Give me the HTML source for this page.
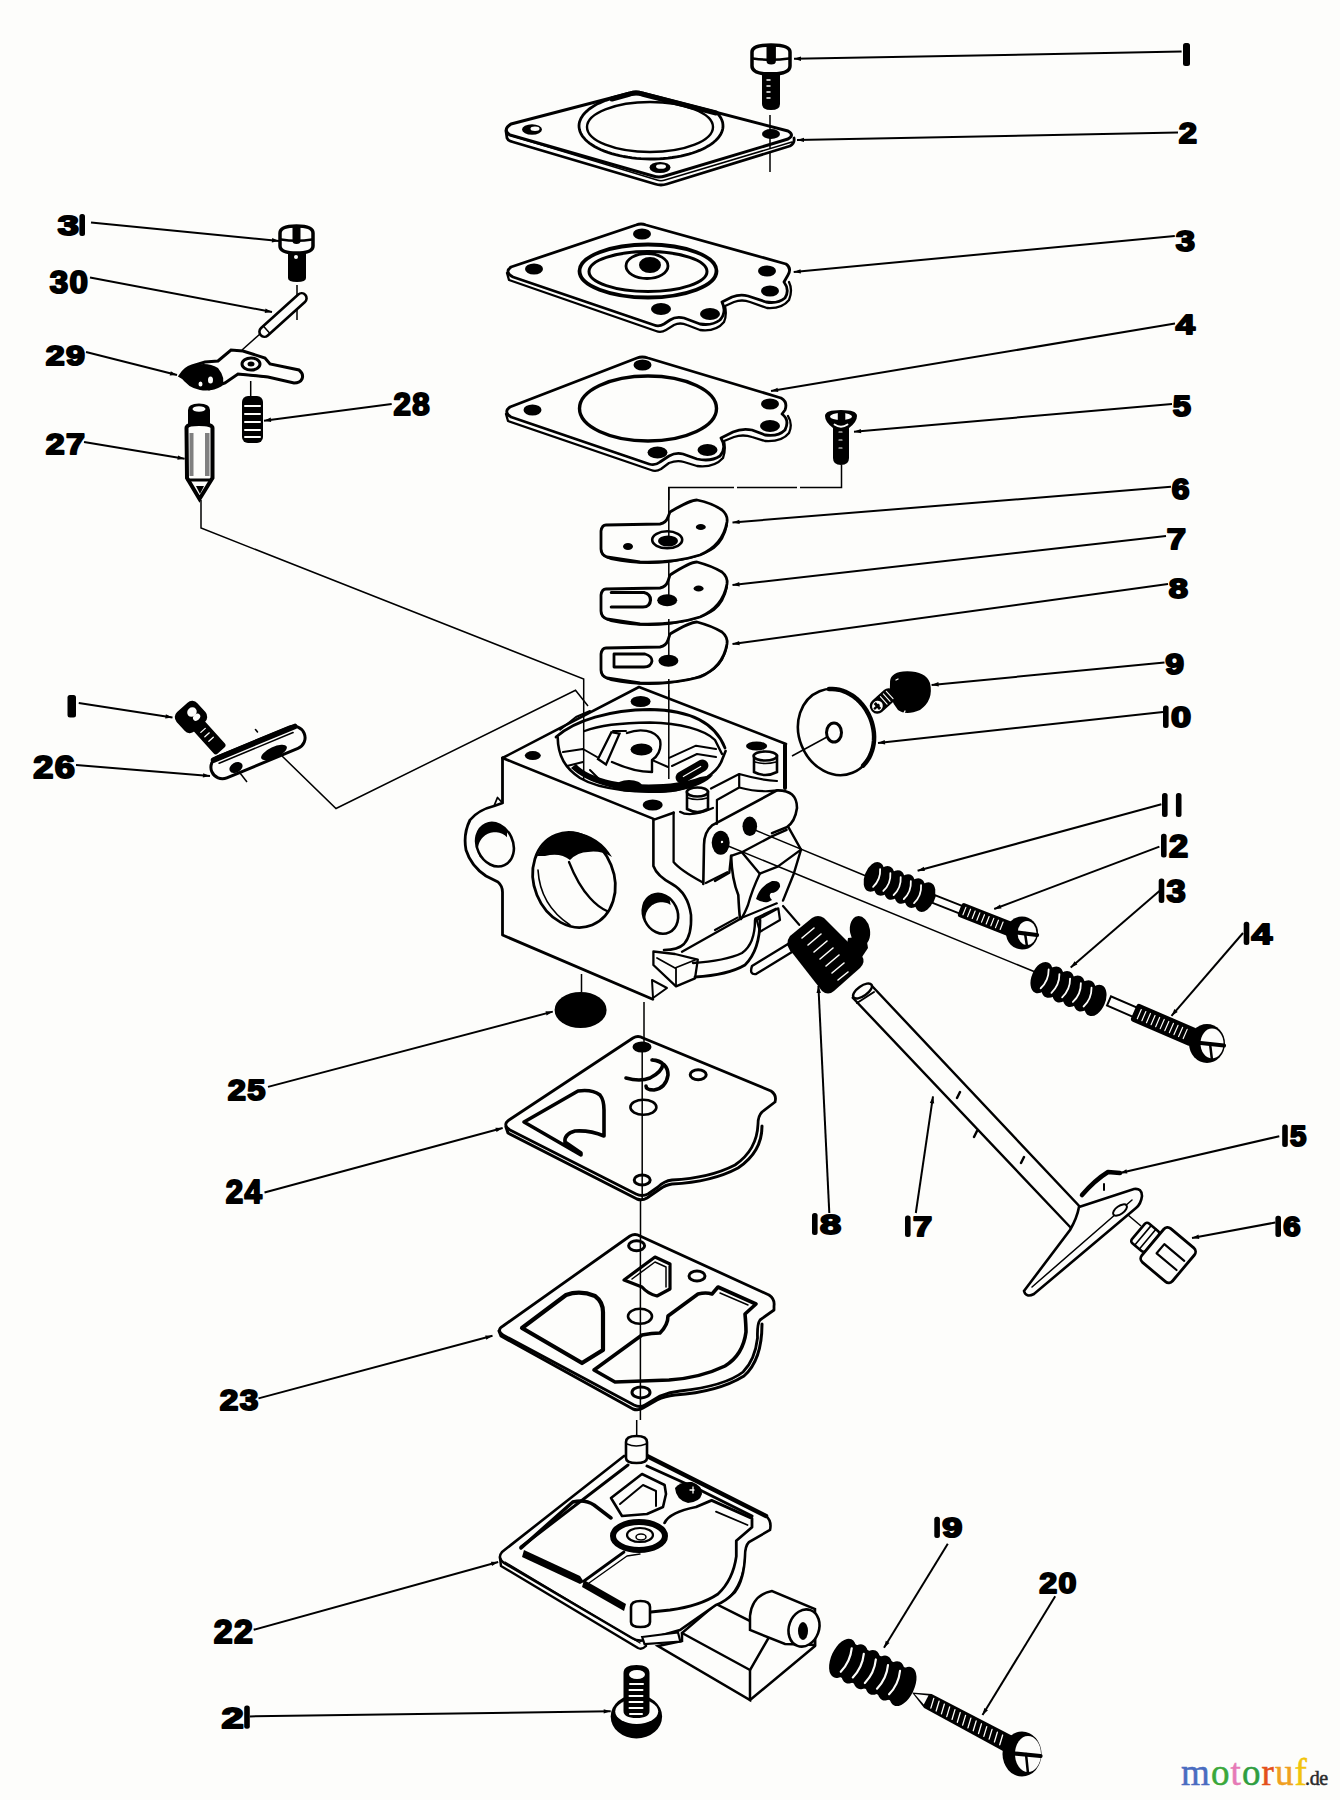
<!DOCTYPE html>
<html><head><meta charset="utf-8"><title>Carburetor parts diagram</title>
<style>
html,body{margin:0;padding:0;background:#fdfdfb;}
body{width:1340px;height:1800px;overflow:hidden;position:relative;}
svg{position:absolute;left:0;top:0;display:block;}
.o{fill:none;stroke:#000;stroke-linejoin:round;stroke-linecap:round;}
.t{fill:none;stroke:#000;stroke-width:1.5;}
.w{fill:none;stroke:#fdfdfb;stroke-linecap:round;}
.ld line{stroke:#000;stroke-width:2;}
.lb text{font-family:"Liberation Sans",sans-serif;font-weight:bold;fill:#000;stroke:#000;stroke-width:2;stroke-linejoin:round;}
.logo{position:absolute;left:1181px;top:1753px;font-family:"Liberation Serif",serif;font-size:37px;line-height:40px;white-space:nowrap;letter-spacing:1.1px;-webkit-text-stroke:0.5px currentColor;}
.logo span.de{font-size:20px;color:#2b2b2b;letter-spacing:0;margin-left:-3px;letter-spacing:-0.3px;}
</style></head><body>
<svg width="1340" height="1800" viewBox="0 0 1340 1800">
<!-- screw 1 top -->
<g>
<path class="o" d="M752,52 Q752,45 771,45 Q790,45 790,52 L790,66 Q790,74 771,74 Q752,74 752,66 Z" stroke-width="3.5"/>
<path class="o" d="M753,58.5 Q771,61 789,58.5" stroke-width="2.6"/>
<path d="M766.5,45 L775.9,45 L775.9,61 Q775.9,64.5 771.2,64.5 Q766.5,64.5 766.5,61 Z"/>
<path d="M762,72 L780,72 L780,104 Q780,110 771,110 Q762,110 762,104 Z"/>
<path class="w" d="M767,80 h3 M767,86 h3 M767,92 h3 M767,98 h3" stroke-width="1.5"/>
</g>
<path class="t" d="M770,115 V148 M770,152 V172" />
<!-- cover 2 -->
<g>
<path class="o" d="M511,124 L630,93 Q636,91 642,93 L788,131 Q795,135 788,139 L665,176 Q659,178 653,176 L510,135 Q502,130 511,124 Z" stroke-width="3"/>
<path class="o" d="M506,131 L507,138 Q508,141 513,142 L655,184 Q661,186 667,184 L790,146 Q795,143 794,138" stroke-width="2.8"/>
<path class="o" d="M509,135 L657,180 Q661,181.5 665,180 L792,142" stroke-width="1.5"/>
<path class="o" d="M642.9,93.2 L638.4,93.5 L634.0,93.9 L629.6,94.5 L625.3,95.2 L621.2,96.0 L617.1,96.9 L613.2,97.9 L609.4,99.1 L605.8,100.3 L602.4,101.7 L599.2,103.1 L596.1,104.6 L593.3,106.3 L590.7,108.0 L588.4,109.7 L586.3,111.6 L584.4,113.5 L582.8,115.4 L581.5,117.4 L580.5,119.4 L579.7,121.4 L579.2,123.5 L579.0,125.6 L579.1,127.6 L579.5,129.7 L580.1,131.8 L581.0,133.8 L582.2,135.8 L583.7,137.7 L585.4,139.7 L587.4,141.5 L589.7,143.3 L592.2,145.0 L594.9,146.7 L597.9,148.3 L601.0,149.7 L604.4,151.1 L607.9,152.4 L611.6,153.6 L615.5,154.7 L619.5,155.7 L623.6,156.5 L627.8,157.2 L632.1,157.8 L636.5,158.3 L641.0,158.7 L645.5,158.9 L650.0,159.0 L654.5,159.0 L659.0,158.8 L663.5,158.5 L667.9,158.1 L672.3,157.5 L676.6,156.8 L680.7,156.1 L684.8,155.1 L688.7,154.1 L692.5,153.0 L696.1,151.7 L699.5,150.4 L702.8,148.9 L705.8,147.4 L708.6,145.8 L711.2,144.1 L713.6,142.3 L715.7,140.5 L717.6,138.6 L719.1,136.6 L720.5,134.7 L721.5,132.7 L722.3,130.6 L722.8,128.5 L723.0,126.5 L722.9,124.4 L722.6,122.3 L721.9,120.3 L721.0,118.3 L719.8,116.3 L718.3,114.3 L716.6,112.4" stroke-width="2.8"/>
<ellipse class="o" cx="650" cy="127" rx="63" ry="25" stroke-width="2.4"/>
<path class="o" d="M612,99 L630,94 Q636,92 642,94 L716,113" stroke-width="5"/>
<ellipse cx="532" cy="129.5" rx="10" ry="5.2"/><ellipse cx="535" cy="128.8" rx="4.5" ry="2.2" fill="#fdfdfb"/>
<ellipse cx="660" cy="167.5" rx="10.5" ry="5.5"/><ellipse cx="661" cy="166.5" rx="5" ry="2.3" fill="#fdfdfb"/>
<ellipse cx="771" cy="134" rx="9" ry="5"/>
</g>
<!-- gasket 3 -->
<g>
<path class="o" d="M511,267 L636,225 Q641,223 646,225 L786,264 Q792,268 788,275 L784,282 Q790,290 785,298 Q778,304 766,302 L748,296 Q740,294 732,297 L722,302 Q727,312 720,320 Q712,326 700,324 L684,318 Q676,316 670,320 L664,324 Q659,327 654,325 L513,277 Q504,272 511,267 Z" stroke-width="2.8"/>
<path class="o" d="M507,273 L509,280 L656,331 Q661,333 666,330 L674,325 Q680,322 687,325 L700,330 Q716,332 724,322 Q727,315 725,306 L734,302 Q742,299 750,302 L767,308 Q782,309 789,300 Q793,290 789,282" stroke-width="2.3"/>
<ellipse class="o" cx="648" cy="271" rx="68.5" ry="26.5" stroke-width="3.8"/>
<ellipse class="o" cx="648" cy="271.5" rx="59" ry="20" stroke-width="3"/>
<ellipse class="o" cx="647" cy="266" rx="21" ry="12.5" stroke-width="2.8"/>
<ellipse cx="650" cy="265" rx="11" ry="8"/>
<ellipse cx="534" cy="269" rx="9" ry="5.5"/>
<ellipse cx="642" cy="234" rx="9" ry="5.5"/>
<ellipse cx="767" cy="271" rx="9" ry="5.5"/>
<ellipse cx="770" cy="291" rx="9" ry="5.5"/>
<ellipse cx="661" cy="309" rx="10" ry="6"/>
<ellipse cx="710" cy="314" rx="10" ry="6"/>
</g>
<!-- gasket 4 -->
<g>
<path class="o" d="M510,407 L637,358 Q642,356 648,358 L781,398 Q788,402 785,410 L782,414 Q790,420 785,430 Q778,437 765,435 L752,430 Q742,428 733,432 L721,438 Q727,448 720,456 Q711,462 697,459 L683,454 Q676,452 669,456 L660,462 Q655,466 649,464 L511,417 Q503,412 510,407 Z" stroke-width="2.8"/>
<path class="o" d="M506,414 L508,421 L651,470 Q656,472 661,469 L669,463 Q677,460 684,462 L697,466 Q714,468 723,458 Q726,450 724,441 L734,437 Q743,434 752,437 L765,441 Q782,442 789,433 Q793,424 788,416" stroke-width="2.3"/>
<ellipse class="o" cx="648" cy="408.5" rx="68.5" ry="32.5" stroke-width="3.4"/>
<ellipse cx="532.5" cy="410" rx="9" ry="5.5"/>
<ellipse cx="642.5" cy="365" rx="9" ry="5.5"/>
<ellipse cx="770" cy="404" rx="9" ry="5.5"/>
<ellipse cx="770" cy="426" rx="10" ry="6"/>
<ellipse cx="657.5" cy="452.5" rx="10" ry="6"/>
<ellipse cx="707.5" cy="450" rx="10" ry="6"/>
</g>
<!-- screw 5 -->
<g>
<path d="M825,416 Q825,410 841,410 Q857,410 857,416 Q857,422 849,428 L849,458 Q849,465 841,465 Q833,465 833,458 L833,428 Q825,422 825,416 Z"/>
<ellipse cx="841" cy="416.5" rx="11" ry="3.6" fill="#fdfdfb"/><rect x="837.8" y="411" width="7.5" height="16" rx="3"/><path class="w" d="M834.5,424.5 Q841,429 847.5,424.5" stroke-width="1.8"/>
<path class="w" d="M839,432 h3 M839,440 h3 M839,448 h3" stroke-width="1.2"/>
</g>
<path class="t" d="M841.5,465 V487.5 H800 M797,487.5 H737 M734,487.5 H668.8 V500" stroke-width="1.6"/>
<!-- plate 6 -->
<g>
<path class="o" d="M606,525 L660,524 Q666,523 668,517 L670,512 Q690,500 697,500 Q712,503 722,510 Q728,515 727,522 Q723,545 700,555 Q675,563 640,562 L607,557 Q601,555 601,549 L601,531 Q602,525 606,525 Z" stroke-width="2.8" fill="#fdfdfb"/>
<path class="o" d="M601,549 Q602,557 611,559 Q640,565 668,562 Q700,558 714,548 Q724,540 727,525" stroke-width="2"/>
<ellipse class="o" cx="667.2" cy="539.8" rx="15" ry="8.5" stroke-width="2.6"/>
<ellipse cx="668" cy="541" rx="10" ry="5.5"/>
<ellipse cx="628" cy="546.5" rx="5" ry="3.5"/>
<ellipse cx="700.8" cy="527" rx="5" ry="3"/>
</g>
<!-- plate 7 -->
<g>
<path class="o" d="M606,589 L660,588 Q666,587 668,581 L670,575 Q690,562 697,562 Q712,566 722,572 Q728,577 727,584 Q723,607 700,617 Q675,625 640,624 L607,619 Q601,617 601,611 L601,595 Q602,589 606,589 Z" stroke-width="2.8" fill="#fdfdfb"/>
<path class="o" d="M601,611 Q602,619 611,621 Q640,627 668,624 Q700,620 714,610 Q724,602 727,587" stroke-width="2"/>
<path class="o" d="M611.3,592.5 L644,592.5 Q650.5,594 650.5,600 Q650,607 643,607 L611.3,607" stroke-width="3.2"/>
<ellipse cx="667.2" cy="600.3" rx="10" ry="6"/>
<ellipse cx="698.6" cy="588.5" rx="5" ry="3"/>
</g>
<!-- plate 8 -->
<g>
<path class="o" d="M606,648 L660,647 Q666,646 668,640 L670,634 Q690,622 697,622 Q712,626 722,632 Q728,637 727,644 Q723,667 700,677 Q675,684 640,683 L607,678 Q601,676 601,670 L601,654 Q602,648 606,648 Z" stroke-width="2.8" fill="#fdfdfb"/>
<path class="o" d="M601,670 Q602,678 611,680 Q640,686 668,683 Q700,679 714,669 Q724,661 727,646" stroke-width="2"/>
<path class="o" d="M614,654 L645,654 Q652,656 652,661 Q651,667 644,667 L614,667 Z" stroke-width="2.8"/>
<ellipse cx="668.4" cy="660.7" rx="10" ry="6"/>
</g>

<path class="t" d="M668.8,487.5 V541 M668.8,563 V600 M668.8,619 V661 M668.8,679 V700" stroke-width="1.6"/>
<!-- screw 9 -->
<g>
<path d="M890,684 Q889,673 903,671.5 Q925,670 930,683 Q934,700 920,710 Q906,716 898,710 Q888,698 890,684 Z"/>
<g transform="translate(883,701) rotate(-42)">
<rect x="-15" y="-7.5" width="30" height="15" rx="7"/>
<ellipse cx="-7.5" cy="0" rx="5.5" ry="5.2" fill="#fdfdfb"/>
<path d="M-9,-4 h3 v8 h-3 Z M-12,-1.2 h7 v2.4 h-7 Z"/>
<path class="w" d="M1,-5 v10 M5,-5 v10 M9,-5 v10" stroke-width="1.1"/>
</g>
<path class="w" d="M896,680 l2,-1 M904,713 l1,-2" stroke-width="1.3"/>
</g>
<!-- diaphragm 10 -->
<g>
<ellipse class="o" cx="836" cy="732" rx="37" ry="44" transform="rotate(-22 836 732)" stroke-width="2.6"/>
<path class="o" d="M829.0,689.0 L832.2,688.9 L835.6,689.2 L838.9,689.7 L842.2,690.6 L845.4,691.8 L848.6,693.4 L851.7,695.2 L854.6,697.2 L857.5,699.6 L860.1,702.2 L862.6,705.0 L864.9,708.1 L866.9,711.3 L868.7,714.6 L870.3,718.1 L871.6,721.7 L872.6,725.4 L873.4,729.2 L873.9,732.9 L874.1,736.7 L874.0,740.4 L873.6,744.0 L872.9,747.6 L871.9,751.0 L870.7,754.3 L869.2,757.5 L867.4,760.4 L865.4,763.1 L863.2,765.6" stroke-width="4.5"/>
<ellipse class="o" cx="834" cy="732.5" rx="7.5" ry="9.5" stroke-width="3"/>
<path class="t" d="M827,737 L792,756" stroke-width="1.6"/>
</g>
<!-- carburetor body -->
<g>
<!-- front face + ear fill white -->
<path fill="#fdfdfb" stroke="none" d="M502.5,758 L639,687 L786,744 L786,790 L800,810 L790,850 L760,905 L700,985 L652,999 L502.5,935 Z"/>
<!-- top face outline -->
<path class="o" d="M502.5,758 L639,687 L786,744" stroke-width="2.6"/>
<path class="o" d="M502.5,758 L654.8,819.4 L673.6,812.7" stroke-width="2.6"/>
<path class="o" d="M560,729.7 L576,717 L590,711" stroke-width="2"/>
<!-- chamber -->
<path class="o" d="M556,737 C575,720 610,710 650,709.5 C690,710 715,722 725,748" stroke-width="2.8"/>
<path class="o" d="M584.6,731 C600,725 620,722.8 650,722.5 C680,723 705,730 715,740 L722,754" stroke-width="2.4"/>
<path class="o" d="M557.7,737.6 C558,756 565,768 580,778 C600,790 640,794 676,790 C700,785 718,772 722,760 L725.6,751" stroke-width="2.6"/>
<path d="M571,768 C590,787 640,797 676,791.5 C695,788 708,782 713,775 L700,777 C680,785 640,787 612,781 C595,777 582,771 576,764 Z"/>
<ellipse cx="629" cy="786" rx="13" ry="6"/>
<path class="o" d="M563,752 L583,749 L597,757 M567,766 L583,762 M590,770 L600,780" stroke-width="2"/>
<path fill="#fdfdfb" stroke="#000" stroke-width="2.3" d="M598,759 L611.4,732.2 L619.5,733.6 L606,764.5 Z"/>
<path class="o" d="M613,731 L626,731" stroke-width="2"/>
<path class="o" d="M627,733 C640,728 655,730 660,740 C662,750 657,757 652,760 L652,772 C640,772 625,768 612,762" stroke-width="2.4"/>
<ellipse cx="641.5" cy="749.5" rx="11" ry="6"/>
<path class="o" d="M652,760 L668,767" stroke-width="2"/>
<g transform="translate(692,771.5) rotate(-30)"><rect x="-18" y="-6" width="36" height="12" rx="6"/><path class="w" d="M-10,0 H10" stroke-width="1.2"/></g>
<path class="o" d="M669.2,757.8 L696,745.7 L716,749 M672,766 L697,754 L716,757" stroke-width="2"/>
<ellipse cx="640.6" cy="701.5" rx="10" ry="5.5"/>
<ellipse cx="652.7" cy="805" rx="10" ry="5.5"/>
<ellipse cx="532.8" cy="755.6" rx="8" ry="4.5"/>
<!-- pins -->
<path class="o" d="M680,811.8 Q690,818 713,808" stroke-width="2.2"/>
<path fill="#fdfdfb" stroke="#000" stroke-width="2.6" d="M687,792 L687,809 Q697.4,815 708,809 L708,792 Z"/>
<ellipse cx="697.4" cy="792" rx="10.5" ry="4.5" fill="#fdfdfb" stroke="#000" stroke-width="2.6"/>
<path class="o" d="M688,798 Q697,801 707,798" stroke-width="1.6"/>
<ellipse cx="756.6" cy="746" rx="10.6" ry="4.5"/>
<path fill="#fdfdfb" stroke="#000" stroke-width="2.6" d="M754,756 L754,772 Q765.3,778 777,772 L777,756 Z"/>
<ellipse cx="765.3" cy="756" rx="11.6" ry="4.5" fill="#fdfdfb" stroke="#000" stroke-width="2.6"/>
<path class="o" d="M755,762 Q765,765 776,762" stroke-width="1.6"/>
<!-- right top edge / ledge -->
<path class="o" d="M785,745 L785,788" stroke-width="4"/>
<path class="o" d="M711,788.5 L739.2,774 Q760,780 777,781 M716.9,800 L739.2,787.5 Q760,793 777,790.4 M739.2,774 V787.5 M716.9,800 V824" stroke-width="2.2"/>
<!-- boss with holes -->
<path class="o" d="M703.3,884 L704,845 Q704,832 712,825.4 L777,790.4 Q797,790 797,808 Q795,822 786.7,827.3 L772,833.1" stroke-width="2.6"/>
<path class="o" d="M705.8,883 L727.3,872.2" stroke-width="2.2"/>
<ellipse cx="720.7" cy="842.8" rx="9" ry="12"/>
<ellipse cx="749.8" cy="826.3" rx="7.3" ry="9.7"/>
<circle cx="722" cy="842" r="1.2" fill="#fdfdfb"/>
<!-- front face -->
<path class="o" d="M502.5,758 V803 L494,806 Q478,810 470,820 Q463,834 466,850 Q471,866 486,876 L498,882 Q502.5,886 502.5,892 V935 L652.8,999.3" stroke-width="2.8"/>
<path class="o" d="M494,806 L497.5,797.5 L502.5,803" stroke-width="1.8"/>

<path class="o" d="M653.4,819.4 L653.4,866 Q657,876 672,884 Q688,893 691,915 Q692,935 684,944 Q678,950 664,950" stroke-width="2.6"/>
<path class="o" d="M673.6,812.7 L673.6,862 Q680,870 702,882" stroke-width="2.3"/>
<!-- left ear hole -->
<ellipse class="o" cx="495" cy="844.7" rx="18" ry="22.5" transform="rotate(-25 495 844.7)" stroke-width="2.6"/>
<path d="M480.6,855.7 L479.6,854.1 L478.7,852.3 L477.9,850.5 L477.3,848.7 L476.8,846.8 L476.4,844.9 L476.2,843.0 L476.1,841.1 L476.2,839.2 L476.4,837.4 L476.7,835.7 L477.2,834.0 L477.9,832.4 L478.6,830.8 L479.5,829.4 L480.5,828.1 L481.6,827.0 L482.8,825.9 L484.1,825.0 L485.5,824.3 L486.9,823.7 L488.5,823.3 L490.0,823.0 L491.6,822.9 L493.3,823.0 L494.9,823.2 L496.6,823.6 L498.2,824.2 L499.8,824.9 L501.4,825.8 L502.9,826.8 L504.4,827.9 L505.8,829.2 L507.1,830.6 L507.0,837.2 L505.9,836.2 L504.8,835.3 L503.5,834.5 L502.2,833.8 L500.8,833.2 L499.4,832.8 L498.0,832.5 L496.5,832.3 L495.0,832.2 L493.5,832.3 L492.0,832.5 L490.6,832.8 L489.2,833.2 L487.8,833.8 L486.5,834.5 L485.2,835.3 L484.1,836.2 L483.0,837.2 L482.0,838.3 L481.1,839.4 L480.3,840.7 L479.6,842.0 L479.0,843.4 L478.6,844.8 L478.3,846.2 L478.1,847.7 L478.0,849.2 L478.1,850.7 L478.3,852.2 L478.6,853.6 L479.0,855.0 L479.6,856.4 L480.3,857.7 Z"/>
<!-- main bore -->
<ellipse class="o" cx="574" cy="880" rx="40" ry="48.5" transform="rotate(-22 574 880)" stroke-width="2.8"/>
<path d="M537,856 Q548,830 575,832 Q600,836 612,857 Q600,850 588,852 Q578,852 570,860 Q560,852 545,856 Z"/>
<path class="o" d="M569,862 Q578,885 590,898 Q598,907 607,911" stroke-width="2.3"/>
<path class="o" d="M538,870 Q540,905 570,925" stroke-width="1.6"/>
<!-- small hole -->
<ellipse class="o" cx="660.5" cy="913.8" rx="17" ry="20.5" transform="rotate(-25 660.5 913.8)" stroke-width="2.6"/>
<path d="M647.9,925.5 L646.8,924.1 L645.9,922.6 L645.1,921.0 L644.4,919.3 L643.8,917.6 L643.4,915.9 L643.1,914.2 L642.9,912.5 L642.8,910.7 L642.9,909.0 L643.1,907.4 L643.5,905.7 L644.0,904.2 L644.6,902.7 L645.3,901.3 L646.1,900.0 L647.1,898.8 L648.1,897.7 L649.3,896.8 L650.5,895.9 L651.8,895.2 L653.2,894.7 L654.6,894.3 L656.1,894.0 L657.6,893.9 L659.2,893.9 L660.7,894.1 L662.2,894.5 L663.8,894.9 L665.3,895.6 L666.7,896.4 L668.2,897.3 L669.5,898.3 L670.6,904.9 L669.4,904.2 L668.2,903.6 L666.9,903.1 L665.6,902.7 L664.3,902.4 L662.9,902.3 L661.5,902.2 L660.1,902.3 L658.7,902.5 L657.4,902.8 L656.0,903.2 L654.7,903.8 L653.5,904.4 L652.3,905.1 L651.2,906.0 L650.2,906.9 L649.2,907.9 L648.4,909.0 L647.6,910.2 L647.0,911.4 L646.4,912.6 L646.0,914.0 L645.7,915.3 L645.5,916.6 L645.4,918.0 L645.4,919.3 L645.6,920.7 L645.9,922.0 L646.3,923.3 L646.8,924.6 L647.4,925.8 L648.2,926.9 Z"/>
<!-- bottom right tab & bowl -->
<path class="o" d="M653.4,951.5 L675,954 L697.8,959.6 L695,978.4 L676,986.4 L653.4,965 Z" stroke-width="2.3"/>
<path class="o" d="M657,958 L675,968 L695,960 M676,968 L676,986" stroke-width="1.8"/>
<path class="o" d="M693,963 Q725,961 742,953 Q755,944 755,920" stroke-width="2.4"/>
<path class="o" d="M695,977 Q728,975 745,965 Q760,950 760,920" stroke-width="2.8"/>
<path class="o" d="M682,951.7 L741,918.5" stroke-width="2.4"/>
<path class="o" d="M652,980 L653,998 L667,988 Z" stroke-width="2"/>
<!-- throttle lever prongs / bracket -->
<path class="o" d="M756.7,920 L778.3,908.3 L780,920 L760,931.7 Z" stroke-width="2.2"/>
<path class="o" d="M715,880.9 L729.3,872.8 L731.1,855.8 L741.9,852.2 L772.3,836.1 L786.6,829.9" stroke-width="2.4"/>
<path class="o" d="M741.9,852.2 L759.8,873.7 L777.7,866.6 L801,849.6" stroke-width="2.4"/>
<path class="o" d="M788.4,827.2 L801,849.6 L793.8,873.7 L783,900.6" stroke-width="2.4"/>
<path class="o" d="M731.1,855.8 Q732,880 738.3,895 Q739,910 740,918.5" stroke-width="2.6"/>
<path class="o" d="M759.8,873.7 Q752,890 748,905 Q744,915 741,919" stroke-width="2.4"/>
<path d="M756,899 Q760,886 772,881 Q781,880 780,887 Q777,893 771,893 Q768,896 772,900 L768,902 Q762,903 756,899 Z"/>
<path class="o" d="M740,918.5 L776.8,903.3 M755.3,918.5 L775.9,908.7 M783,906 L799.2,924.8 M715,930 L737.4,917.6" stroke-width="2.2"/>
</g>
<!-- projection lines from body holes -->
<path class="t" d="M668.8,690 V779" stroke-width="1.6"/>
<path class="t" d="M750,828 L866,876 M722,843.5 L1034,971.5 M581.5,974 V992 M644,1002 V1044" stroke-width="1.6"/>
<!-- needle / 26 projection lines -->
<path class="t" d="M201,500 V528 L583.7,679 V779" stroke-width="1.5"/>
<path class="t" d="M282,756 L336,808.5 L575.5,690.3 L588,706" stroke-width="1.5"/>
<!-- spring 11 -->
<g transform="translate(899.5,887) rotate(21.5)">
<ellipse cx="-27.5" cy="0" rx="9.3" ry="15.5"/>
<ellipse cx="-16.5" cy="0" rx="9.3" ry="15.5"/>
<ellipse cx="-5.5" cy="0" rx="9.3" ry="15.5"/>
<ellipse cx="5.5" cy="0" rx="9.3" ry="15.5"/>
<ellipse cx="16.5" cy="0" rx="9.3" ry="15.5"/>
<ellipse cx="27.5" cy="0" rx="9.3" ry="15.5"/>
<rect x="-29.7" y="-12.5" width="59.4" height="25.0"/>
<path class="w" d="M-24.6,-9.6 Q-20.1,0 -24.6,9.6 M-13.6,-9.6 Q-9.1,0 -13.6,9.6 M-2.5,-9.6 Q2.0,0 -2.5,9.6 M8.4,-9.6 Q12.9,0 8.4,9.6 M19.4,-9.6 Q23.9,0 19.4,9.6 " stroke-width="1.8"/>
</g>
<!-- screw 12 -->
<g transform="translate(933.7,899) rotate(21.5)">
<rect x="0" y="-4" width="30" height="8" fill="#fdfdfb" stroke="#000" stroke-width="2"/>
<rect x="28" y="-7.5" width="62" height="15" rx="3"/>
<path class="w" d="M33,-4 v8 M38,-4 v8 M43,-4 v8 M48,-4 v8 M53,-4 v8 M58,-4 v8 M63,-4 v8 M68,-4 v8 M73,-4 v8" stroke-width="1.2"/>
</g>
<ellipse cx="1022" cy="933" rx="16" ry="16.5"/><ellipse cx="1027" cy="933" rx="9.5" ry="12.0" fill="#fdfdfb"/><path class="o" d="M1013,932 L1037,935" stroke-width="4.2"/><path class="o" d="M1025,933 L1027,946.5" stroke-width="2.5"/>
<!-- spring 13 -->
<g transform="translate(1068.5,989) rotate(23)">
<ellipse cx="-29.2" cy="0" rx="9.9" ry="16.5"/>
<ellipse cx="-17.5" cy="0" rx="9.9" ry="16.5"/>
<ellipse cx="-5.8" cy="0" rx="9.9" ry="16.5"/>
<ellipse cx="5.8" cy="0" rx="9.9" ry="16.5"/>
<ellipse cx="17.5" cy="0" rx="9.9" ry="16.5"/>
<ellipse cx="29.2" cy="0" rx="9.9" ry="16.5"/>
<rect x="-31.5" y="-13.5" width="63.0" height="27.0"/>
<path class="w" d="M-25.9,-10.2 Q-21.4,0 -25.9,10.2 M-14.2,-10.2 Q-9.8,0 -14.2,10.2 M-2.6,-10.2 Q1.9,0 -2.6,10.2 M9.1,-10.2 Q13.6,0 9.1,10.2 M20.7,-10.2 Q25.2,0 20.7,10.2 " stroke-width="1.8"/>
</g>
<!-- screw 14 -->
<g transform="translate(1109,1001) rotate(23.4)">
<rect x="0" y="-5" width="30" height="10" fill="#fdfdfb" stroke="#000" stroke-width="2"/>
<rect x="27" y="-9.5" width="66" height="19" rx="3"/>
<path class="w" d="M33,-5 v10 M38,-5 v10 M43,-5 v10 M48,-5 v10 M53,-5 v10 M58,-5 v10 M63,-5 v10 M68,-5 v10 M73,-5 v10 M78,-5 v10 M83,-5 v10" stroke-width="1.2"/>
</g>
<ellipse cx="1207" cy="1043.5" rx="18" ry="19.5"/><ellipse cx="1212" cy="1043.5" rx="11.5" ry="15.0" fill="#fdfdfb"/><path class="o" d="M1196,1042.5 L1224,1045.5" stroke-width="4.2"/><path class="o" d="M1210,1043.5 L1212,1060.0" stroke-width="2.5"/>
<!-- spring 18 -->
<g>
<path d="M790,936 L812,918 Q818,914 824,918 L862,956 Q866,962 860,968 L834,991 Q828,996 822,991 L790,950 Q785,943 790,936 Z"/>
<ellipse cx="860" cy="931" rx="10" ry="15" transform="rotate(-10 860 931)"/>
<path d="M848,938 L866,936 L868,948 L860,960 L846,952 Z"/>
<path d="M752,966 L788,944 L792,952 L756,974 Q749,975 752,966 Z" fill="#fdfdfb" stroke="#000" stroke-width="2.4" stroke-linejoin="round"/>
<path class="w" d="M802,938 l12,-10 M808,945 l13,-11 M814,952 l13,-11 M820,959 l13,-11 M826,966 l13,-11 M832,973 l12,-10 M838,980 l10,-8" stroke-width="1.6"/>
</g>
<!-- shaft 17 -->
<g>
<path fill="#fdfdfb" stroke="#000" stroke-width="2.4" d="M853,998 L872,986 L1082,1209 L1072,1229 Z"/>
<ellipse cx="862.5" cy="991" rx="11" ry="5" transform="rotate(-35 862.5 991)" fill="#fdfdfb" stroke="#000" stroke-width="2.4"/>
<path class="o" d="M857,1003 L874,992" stroke-width="2"/>
<path class="o" d="M960,1092 l-3,6 M977,1131 l-3,6 M1024,1157 l-3,6" stroke-width="2.5"/>
<!-- lever -->
<path fill="#fdfdfb" stroke="#000" stroke-width="2.6" d="M1079,1207 L1134,1189 Q1142,1188 1142,1196 Q1141,1204 1136,1208 L1034,1294 Q1026,1298 1024,1291 L1070,1230 Q1077,1218 1079,1207 Z"/>
<path class="o" d="M1032,1287 L1132,1200" stroke-width="1.5"/>
<ellipse cx="1120" cy="1210" rx="8" ry="4" transform="rotate(-35 1120 1210)" fill="#fdfdfb" stroke="#000" stroke-width="2"/>
</g>
<!-- clip 15 -->
<path class="o" d="M1082,1195 Q1095,1180 1108,1172 L1120,1173" stroke-width="4.5"/>
<path class="o" d="M1104,1184 v6" stroke-width="2"/>
<!-- nut 16 -->
<g transform="translate(1162,1250) rotate(40)">
<rect x="-30" y="-12" width="18" height="26" rx="3" fill="#fdfdfb" stroke="#000" stroke-width="2.6"/>
<rect x="-12" y="-22" width="40" height="44" rx="5" fill="#fdfdfb" stroke="#000" stroke-width="2.8"/>
<path class="o" d="M-2,-6 H24 M-2,6 H24 M-2,-6 V6" stroke-width="2.2"/>
<path class="o" d="M-24,-12 V14 M-18,-12 V14" stroke-width="1.6"/>
</g>
<path class="t" d="M1128,1215 L1141,1226" stroke-width="1.6"/>
<!-- filter 25 -->
<ellipse cx="580.6" cy="1010" rx="26" ry="18"/>
<!-- gasket 24 -->
<g>
<path class="o" d="M509,1120 L633,1038 Q638,1035 643,1038 L771,1091 Q777,1095 775,1102 L762,1112 Q758,1116 758,1124 Q757,1150 735,1165 Q710,1178 672,1180 Q664,1181 658,1187 L648,1194 Q642,1197 636,1194 L510,1130 Q502,1125 509,1120 Z" stroke-width="2.8"/>
<path class="o" d="M506,1127 L508,1133 L637,1199 Q642,1201 647,1198 L660,1189 Q665,1185 672,1184 Q712,1182 738,1168 Q762,1152 762,1126" stroke-width="3"/>
<path class="o" d="M524,1122 L578,1091 Q592,1089 600,1095 Q604,1100 604,1110 L604,1136 Q590,1130 575,1131 Q564,1134 565,1142 L581,1153 L581,1155 Z" stroke-width="3.6"/>
<ellipse cx="642" cy="1047" rx="9.5" ry="5.5"/>
<path class="o" d="M626,1078 Q640,1082 650,1078 Q662,1072 663,1064 Q660,1060 652,1060 Q668,1062 668,1075 Q666,1088 654,1090 Q646,1090 646,1086" stroke-width="3.6"/>
<ellipse class="o" cx="643.4" cy="1107.3" rx="13" ry="7.5" stroke-width="2.6"/>
<ellipse class="o" cx="698.2" cy="1074.8" rx="8" ry="5" stroke-width="3"/>
<ellipse class="o" cx="642.2" cy="1180" rx="8" ry="5" stroke-width="3"/>
</g>
<path class="t" d="M642.2,1044 V1200 M640.5,1200 V1240" stroke-width="1.6"/>
<!-- gasket 23 -->
<g>
<path class="o" d="M503,1326 L630,1236 Q635,1233 640,1236 L769,1295 Q775,1299 774,1306 L774,1310 L760,1320 Q757,1324 757.5,1338 Q755,1360 743,1372 Q725,1386 680,1391 Q670,1392 660,1396 L645,1405 Q640,1408 634,1405 L503,1335 Q496,1330 503,1326 Z" stroke-width="2.8"/>
<path class="o" d="M499,1331 L501,1336 L633,1409 Q638,1411 643,1408 L657,1400 Q665,1396 675,1395 Q718,1392 744,1376 Q762,1360 762,1324" stroke-width="3"/>
<path class="o" d="M522,1328 L566,1295 Q580,1290 595,1296 Q603,1302 603,1312 L603,1350 L582,1363 Z" stroke-width="4.2"/>
<path class="o" d="M594,1370 L642,1335 Q652,1333 660,1333 Q668,1325 668,1316 L698,1294 Q706,1292 712,1294 L718,1287 L756,1304 L745,1314 Q746,1325 746,1332 Q743,1355 725,1366 Q700,1378 669,1380 L615,1382 Z" stroke-width="3.6"/>
<path class="o" d="M720,1293 L748,1305" stroke-width="1.5"/>
<path class="o" d="M624,1280 L655,1257 L670,1264 L670,1289 L657,1296 Q648,1294 642,1287 Z" stroke-width="3.2"/>
<path class="o" d="M632,1279 L655,1262 L666,1267 L666,1287" stroke-width="1.5"/>
<ellipse class="o" cx="636.6" cy="1245.7" rx="8" ry="5" stroke-width="3"/>
<ellipse class="o" cx="640" cy="1316.3" rx="12" ry="7.5" stroke-width="2.6"/>
<ellipse class="o" cx="697" cy="1276" rx="8" ry="5" stroke-width="3"/>
<ellipse class="o" cx="641" cy="1392.4" rx="9" ry="5.5" stroke-width="3"/>
</g>
<path class="t" d="M640.4,1240 V1420 M636.7,1420 V1440" stroke-width="1.6"/>
<!-- cover 22 -->
<g>
<!-- block arm (behind) -->
<path fill="#fdfdfb" stroke="#000" stroke-width="2.5" d="M658,1646 L682,1641 L682,1633 L716,1604 L772,1632 L750,1670 L750,1700 Z"/>
<path class="o" d="M682,1633 L750,1670 M750,1700 L815,1646 L815,1620" stroke-width="2.5"/>
<path fill="#fdfdfb" stroke="#000" stroke-width="2.5" d="M750,1616 Q752,1595 772,1591 L815,1609 L815,1645 L785,1644 L750,1630 Z"/>
<ellipse cx="804" cy="1628" rx="15" ry="19" fill="#fdfdfb" stroke="#000" stroke-width="2.6" transform="rotate(20 804 1628)"/>
<ellipse cx="803" cy="1631" rx="5" ry="9"/>
<!-- plate -->
<path fill="#fdfdfb" stroke="#000" stroke-width="2.6" d="M502,1552 L624,1456 L647,1456 L766,1516 Q772,1521 770,1530 L749,1542 Q745,1546 745,1556 Q744,1580 735,1592 Q725,1602 716,1605 L680,1630 L645,1640 Q638,1642 632,1638 L504,1563 Q497,1558 502,1552 Z"/>
<path class="o" d="M500,1558 L501,1566 L638,1648 Q642,1650 646,1646 L645,1640" stroke-width="2.4"/>
<path class="o" d="M505,1562 L640,1643" stroke-width="1.4"/>
<path class="o" d="M647,1456 L766,1516" stroke-width="4.5"/>
<!-- inner rim -->
<path class="o" d="M521,1547 L628,1465 M647,1466 L700,1490 L752,1516" stroke-width="3"/>
<!-- left chamber -->
<path class="o" d="M521,1548 L572.8,1502 Q585,1499 594,1505 L611,1518" stroke-width="3.5"/>
<path d="M524,1550 L580,1576 L584,1582 L580,1584 L522,1557 Z"/>
<path d="M584,1580 L626,1604 L624,1611 L582,1587 Z"/>
<path class="o" d="M584,1581 L624,1552" stroke-width="2.8"/>
<path class="o" d="M589,1583 L627,1556 L640,1554" stroke-width="1.4"/>
<!-- center ring -->
<ellipse cx="639" cy="1536" rx="26" ry="14" fill="none" stroke="#000" stroke-width="6"/>
<ellipse cx="640" cy="1535" rx="13" ry="7" fill="none" stroke="#000" stroke-width="2.2"/>
<ellipse cx="641" cy="1537" rx="5" ry="3" fill="none" stroke="#000" stroke-width="1.5"/>
<!-- upper small chamber -->
<path class="o" d="M611,1498 L642,1474 L664.6,1485 L666,1494 L663,1507 L647,1514 L622,1516 Z" stroke-width="2.6"/>
<path class="o" d="M620,1504 L643,1485 L656,1491 L656,1506" stroke-width="2"/>
<!-- dark hole -->
<path d="M675,1488 Q680,1481 692,1482 Q703,1486 702,1494 Q700,1502 688,1503 Q676,1500 675,1488 Z"/>
<path class="w" d="M690,1490 l4,0 M693,1487 v6" stroke-width="1.3"/>
<!-- right chamber -->
<path class="o" d="M664.6,1522.8 Q670,1512 696,1507 L711.6,1500.4 L752,1518.4 L752,1527.3 L736.3,1540.7 L736.3,1556.4 Q733,1580 718,1594 Q700,1606 670,1610 L651,1612" stroke-width="2.8"/>
<path class="o" d="M716,1511.6 L747.5,1525" stroke-width="1.8"/>
<path class="o" d="M745,1556 Q743,1584 728,1598" stroke-width="1.5"/>
<!-- pins -->
<path fill="#fdfdfb" stroke="#000" stroke-width="2.6" d="M626,1442 Q626,1436 636.5,1436 Q647,1436 647,1442 L647,1458 Q647,1463 636.5,1463 Q626,1463 626,1458 Z"/>
<path class="o" d="M627,1444 Q636,1448 646,1444" stroke-width="1.5"/>
<path fill="#fdfdfb" stroke="#000" stroke-width="2.6" d="M631,1607 Q631,1601 640.5,1601 Q650,1601 650,1607 L650,1622 Q650,1627 640.5,1627 Q631,1627 631,1622 Z"/>
<!-- tab -->
<path fill="#fdfdfb" stroke="#000" stroke-width="2.2" d="M642.2,1637 L678,1632.5 L680.3,1641.5 L644.5,1644 Z"/>
</g>
<!-- screw 21 -->
<g>
<ellipse cx="636.4" cy="1716.5" rx="25.7" ry="22"/>
<ellipse cx="636.7" cy="1711.5" rx="21.5" ry="12.5" fill="#fdfdfb"/>
<path d="M623.5,1673 Q623.5,1665 636.5,1665 Q649.5,1665 649.5,1673 L649.5,1711 Q649.5,1718 636.5,1718 Q623.5,1718 623.5,1711 Z"/>
<path class="w" d="M630,1684 h13 M629.5,1690 h13 M629.5,1696 h13 M629.5,1702 h13 M629.5,1708 h13 M630,1714 h12" stroke-width="2"/>
<ellipse cx="637" cy="1674.5" rx="8" ry="4.5" fill="#fdfdfb"/>
</g>
<!-- spring 19 -->
<g transform="translate(872.8,1672.4) rotate(25)">
<ellipse cx="-33.3" cy="0" rx="11.3" ry="21"/>
<ellipse cx="-20.0" cy="0" rx="11.3" ry="21"/>
<ellipse cx="-6.7" cy="0" rx="11.3" ry="21"/>
<ellipse cx="6.7" cy="0" rx="11.3" ry="21"/>
<ellipse cx="20.0" cy="0" rx="11.3" ry="21"/>
<ellipse cx="33.3" cy="0" rx="11.3" ry="21"/>
<rect x="-36.0" y="-18" width="72.0" height="36"/>
<path class="w" d="M-29.3,-13.0 Q-24.8,0 -29.3,13.0 M-16.0,-13.0 Q-11.5,0 -16.0,13.0 M-2.7,-13.0 Q1.8,0 -2.7,13.0 M10.7,-13.0 Q15.2,0 10.7,13.0 M24.0,-13.0 Q28.5,0 24.0,13.0 " stroke-width="2.2"/>
</g>
<!-- screw 20 -->
<g transform="translate(912,1692.5) rotate(28)">
<path d="M0,0 L18,-8 L112,-9 L112,9 L18,8 Z"/>
<path fill="#fdfdfb" d="M3,0 L16,-5 L16,5 Z"/>
<path class="w" d="M22,-5 l2,10 M28,-5 l2,10 M34,-5 l2,10 M40,-5 l2,10 M46,-5 l2,10 M52,-5 l2,10 M58,-5 l2,10 M64,-5 l2,10 M70,-5 l2,10 M76,-5 l2,10 M82,-5 l2,10 M88,-5 l2,10 M94,-5 l2,10 M100,-5 l2,10" stroke-width="1.3"/>
</g>
<ellipse cx="1022" cy="1754" rx="19.5" ry="22.5"/><ellipse cx="1028" cy="1754" rx="13.0" ry="18.0" fill="#fdfdfb"/><path class="o" d="M1009.5,1753 L1040.5,1756" stroke-width="4.2"/><path class="o" d="M1026,1754 L1028,1773.5" stroke-width="2.5"/>
<!-- screw 31 -->
<g>
<path fill="#fdfdfb" stroke="#000" stroke-width="3.5" d="M280,233 Q280,226 296.5,226 Q313,226 313,233 L313,246 Q313,253 296.5,253 Q280,253 280,246 Z"/>
<path class="o" d="M281,239.5 Q296.5,242 312,239.5" stroke-width="2.4"/><path d="M292.5,227 L300.5,227 L300.5,241 Q300.5,244 296.5,244 Q292.5,244 292.5,241 Z"/>
<path d="M288,253 L306,253 L306,278 Q306,282 297,282 Q288,282 288,278 Z"/>
<ellipse cx="296" cy="257" rx="2" ry="2" fill="#fdfdfb"/>
</g>
<path class="t" d="M297,285 V320" stroke-width="1.5"/>
<!-- pin 30 -->
<g transform="translate(283,315) rotate(-42)">
<rect x="-30" y="-5" width="60" height="10" rx="5" fill="#fdfdfb" stroke="#000" stroke-width="2.6"/>
<path class="o" d="M-22,-5 v10" stroke-width="1.5"/>
</g>
<path class="t" d="M242,350 L260,334" stroke-width="1.5"/>
<!-- lever 29 -->
<g>
<path fill="#fdfdfb" stroke="#000" stroke-width="3" d="M180,376 Q185,368 192,366 L205,362 L218,361 L231,350 L243,351 L265,358 L270,364 L299,370 Q304,374 302,379 Q300,383 294,383 L268,377 L238,374 L225,383 L209,389 L194,384 Z"/>
<path d="M180,376 Q185,366 196,365 Q208,362 218,368 Q226,378 222,386 Q212,392 200,390 Q188,388 180,376 Z"/>
<ellipse cx="197" cy="375" rx="9" ry="10"/>
<ellipse cx="210.5" cy="380" rx="2.5" ry="3.5" fill="#fdfdfb"/>
<ellipse cx="200.5" cy="384" rx="2" ry="2.5" fill="#fdfdfb"/>
<ellipse cx="251" cy="364" rx="9" ry="6" fill="#fdfdfb" stroke="#000" stroke-width="3"/>
<ellipse cx="251" cy="364" rx="3.5" ry="2.5"/>
<path class="o" d="M238,374 L268,377" stroke-width="2"/>
</g>
<path class="t" d="M250.7,381 V396" stroke-width="1.8"/>
<!-- spring 28 -->
<g>
<rect x="242" y="396" width="21" height="47" rx="6"/>
<path class="w" d="M245,406 h15 M245,414 h15 M245,422 h15 M245,430 h15 M245,437 h15" stroke-width="2"/>
</g>
<!-- needle 27 -->
<g>
<path d="M188,410 Q188,403.5 199,403.5 Q210,403.5 210,410 L210,425 L188,425 Z"/>
<ellipse cx="199" cy="409" rx="6.5" ry="2.8" fill="#fdfdfb"/>
<path class="w" d="M192,424.5 h13" stroke-width="2"/>
<path fill="#fdfdfb" stroke="#000" stroke-width="4" d="M186.5,428 Q186.5,424 199,424 Q212.5,424 212.5,428 L212.5,478 L199.5,499 L187,478 Z"/>
<rect x="189.5" y="433" width="4" height="43" fill="#808080"/>
<rect x="205" y="433" width="4.5" height="43" fill="#808080"/>
<path class="o" d="M188,480 H211" stroke-width="3"/>
<path d="M196,486 L204,486 L200,494 Z"/>
</g>
<!-- plate 26 -->
<g transform="translate(258,752.5) rotate(-22.5)">
<rect x="-50" y="-11.5" width="100" height="23" rx="11.5" fill="#fdfdfb" stroke="#000" stroke-width="3"/>
<path class="o" d="M-44,-10 L44,-10" stroke-width="5.5"/>
<path class="o" d="M-40,-5 L40,-5" stroke-width="1.6"/>
</g>
<ellipse cx="236" cy="767.5" rx="7" ry="5" transform="rotate(-30 236 767.5)"/>
<ellipse cx="274" cy="752.5" rx="14" ry="5.5" transform="rotate(-25 274 752.5)"/>
<path class="o" d="M255.5,729.5 l2,2.5" stroke-width="1.6"/>
<path class="t" d="M240,773 l7,9" stroke-width="1.5"/>
<!-- screw 1 left -->
<g transform="translate(191,717) rotate(48)">
<rect x="-13" y="-14" width="26" height="28" rx="7"/>
<ellipse cx="-3" cy="-4" rx="4.5" ry="5" fill="#fdfdfb"/>
<ellipse cx="4" cy="-4" rx="3" ry="4" fill="#fdfdfb"/>
<rect x="10" y="-7.5" width="35" height="15" rx="3"/>
<path class="w" d="M18,-3 v6 M24,-3 v6 M30,-3 v6" stroke-width="1.3"/>
</g>

<g class="ld"><line x1="794" y1="58.8" x2="1181.6" y2="51.6"/>
<line x1="797" y1="140" x2="1178" y2="132.6"/>
<line x1="793.7" y1="272" x2="1174.8" y2="236"/>
<line x1="771" y1="391" x2="1175" y2="323.6"/>
<line x1="854" y1="431.7" x2="1172" y2="404"/>
<line x1="732.5" y1="522.5" x2="1171" y2="486.8"/>
<line x1="732.5" y1="585" x2="1166" y2="536"/>
<line x1="732.5" y1="644" x2="1168" y2="584"/>
<line x1="931.6" y1="685" x2="1164.5" y2="662.5"/>
<line x1="878" y1="743" x2="1163" y2="712"/>
<line x1="917.6" y1="870.7" x2="1161.4" y2="804.3"/>
<line x1="994.2" y1="909" x2="1159.4" y2="846.6"/>
<line x1="1070.7" y1="967.5" x2="1159.4" y2="891"/>
<line x1="1171.5" y1="1015.8" x2="1243" y2="933"/>
<line x1="1120.1" y1="1173" x2="1279.3" y2="1136.2"/>
<line x1="1192" y1="1238" x2="1275.4" y2="1222.5"/>
<line x1="933" y1="1096.3" x2="915.8" y2="1213"/>
<line x1="818.4" y1="986" x2="829.3" y2="1213"/>
<line x1="884" y1="1647.8" x2="947.8" y2="1543.7"/>
<line x1="982.5" y1="1715" x2="1055.2" y2="1596.3"/>
<line x1="610.7" y1="1711.3" x2="249.8" y2="1716.4"/>
<line x1="498.2" y1="1562" x2="253.7" y2="1629.8"/>
<line x1="492.5" y1="1335.8" x2="258.5" y2="1398.4"/>
<line x1="502.7" y1="1128" x2="264.5" y2="1192.5"/>
<line x1="552.8" y1="1011.6" x2="268" y2="1086.9"/>
<line x1="210" y1="776" x2="76" y2="765"/>
<line x1="184.6" y1="458.7" x2="84" y2="442"/>
<line x1="264" y1="420.7" x2="391.7" y2="403.9"/>
<line x1="177" y1="375" x2="86" y2="352"/>
<line x1="272" y1="312" x2="90" y2="277.5"/>
<line x1="279" y1="241" x2="91" y2="222.5"/>
<line x1="172.5" y1="717.5" x2="78.75" y2="703"/></g>
<g><polygon points="794.0,58.8 801.0,60.9 801.0,56.5"/>
<polygon points="797.0,140.0 804.0,142.1 804.0,137.7"/>
<polygon points="793.7,272.0 800.9,273.5 800.5,269.2"/>
<polygon points="771.0,391.0 778.3,392.0 777.5,387.7"/>
<polygon points="854.0,431.7 861.2,433.3 860.8,428.9"/>
<polygon points="732.5,522.5 739.7,524.1 739.3,519.7"/>
<polygon points="732.5,585.0 739.7,586.4 739.2,582.0"/>
<polygon points="732.5,644.0 739.7,645.2 739.1,640.9"/>
<polygon points="931.6,685.0 938.8,686.5 938.4,682.1"/>
<polygon points="878.0,743.0 885.2,744.4 884.7,740.1"/>
<polygon points="917.6,870.7 924.9,871.0 923.8,866.7"/>
<polygon points="994.2,909.0 1001.5,908.6 1000.0,904.5"/>
<polygon points="1070.7,967.5 1077.4,964.6 1074.6,961.3"/>
<polygon points="1171.5,1015.8 1177.7,1011.9 1174.4,1009.1"/>
<polygon points="1120.1,1173.0 1127.4,1173.6 1126.4,1169.3"/>
<polygon points="1192.0,1238.0 1199.3,1238.9 1198.5,1234.6"/>
<polygon points="933.0,1096.3 929.8,1102.9 934.2,1103.5"/>
<polygon points="818.4,986.0 816.5,993.1 820.9,992.9"/>
<polygon points="884.0,1647.8 889.5,1643.0 885.8,1640.7"/>
<polygon points="982.5,1715.0 988.0,1710.2 984.3,1707.9"/>
<polygon points="610.7,1711.3 603.7,1709.2 603.7,1713.6"/>
<polygon points="498.2,1562.0 490.9,1561.8 492.0,1566.0"/>
<polygon points="492.5,1335.8 485.2,1335.5 486.3,1339.7"/>
<polygon points="502.7,1128.0 495.4,1127.7 496.5,1132.0"/>
<polygon points="552.8,1011.6 545.5,1011.3 546.6,1015.5"/>
<polygon points="210.0,776.0 203.2,773.2 202.8,777.6"/>
<polygon points="184.6,458.7 178.1,455.4 177.3,459.7"/>
<polygon points="264.0,420.7 271.2,422.0 270.7,417.6"/>
<polygon points="177.0,375.0 170.8,371.2 169.7,375.4"/>
<polygon points="272.0,312.0 265.5,308.5 264.7,312.9"/>
<polygon points="279.0,241.0 272.2,238.1 271.8,242.5"/>
<polygon points="172.5,717.5 165.9,714.3 165.2,718.6"/></g>

<g class="lb">
<rect x="1183.0" y="43.0" width="7.0" height="23.0" rx="2.5"/>
<text x="1178.8" y="143.2" font-size="29.9" textLength="18.2" lengthAdjust="spacingAndGlyphs">2</text>
<text x="1175.8" y="251.2" font-size="29.9" textLength="19.2" lengthAdjust="spacingAndGlyphs">3</text>
<text x="1175.8" y="333.8" font-size="28.5" textLength="19.2" lengthAdjust="spacingAndGlyphs">4</text>
<text x="1172.8" y="416.2" font-size="29.9" textLength="18.2" lengthAdjust="spacingAndGlyphs">5</text>
<text x="1171.8" y="498.7" font-size="29.2" textLength="17.7" lengthAdjust="spacingAndGlyphs">6</text>
<text x="1166.8" y="549.2" font-size="29.9" textLength="19.2" lengthAdjust="spacingAndGlyphs">7</text>
<text x="1168.8" y="598.2" font-size="28.5" textLength="19.2" lengthAdjust="spacingAndGlyphs">8</text>
<text x="1165.3" y="673.7" font-size="29.2" textLength="18.7" lengthAdjust="spacingAndGlyphs">9</text>
<rect x="1163.0" y="705.5" width="5.6" height="22.5" rx="2.5"/>
<text x="1170.9" y="727.2" font-size="29.2" textLength="20.1" lengthAdjust="spacingAndGlyphs">0</text>
<rect x="1162.0" y="793.0" width="5.6" height="24.0" rx="2.5"/>
<rect x="1175.9" y="793.0" width="5.6" height="24.0" rx="2.5"/>
<rect x="1161.0" y="833.7" width="5.6" height="23.9" rx="2.5"/>
<text x="1168.9" y="856.8" font-size="31.1" textLength="19.1" lengthAdjust="spacingAndGlyphs">2</text>
<rect x="1158.7" y="878.5" width="5.6" height="24.5" rx="2.5"/>
<text x="1166.6" y="902.2" font-size="32.0" textLength="19.2" lengthAdjust="spacingAndGlyphs">3</text>
<rect x="1243.7" y="921.8" width="5.6" height="23.2" rx="2.5"/>
<text x="1251.6" y="944.2" font-size="30.2" textLength="20.7" lengthAdjust="spacingAndGlyphs">4</text>
<rect x="1282.2" y="1124.6" width="5.6" height="22.3" rx="2.5"/>
<text x="1290.1" y="1146.1" font-size="28.9" textLength="16.4" lengthAdjust="spacingAndGlyphs">5</text>
<rect x="1275.4" y="1215.7" width="5.6" height="21.4" rx="2.5"/>
<text x="1283.3" y="1236.3" font-size="27.7" textLength="17.3" lengthAdjust="spacingAndGlyphs">6</text>
<rect x="905.0" y="1215.4" width="5.6" height="21.6" rx="2.5"/>
<text x="912.9" y="1236.2" font-size="27.9" textLength="19.1" lengthAdjust="spacingAndGlyphs">7</text>
<rect x="812.0" y="1213.0" width="5.6" height="22.0" rx="2.5"/>
<text x="819.9" y="1234.2" font-size="28.5" textLength="21.1" lengthAdjust="spacingAndGlyphs">8</text>
<rect x="934.3" y="1516.8" width="5.6" height="21.2" rx="2.5"/>
<text x="942.2" y="1537.2" font-size="27.4" textLength="20.0" lengthAdjust="spacingAndGlyphs">9</text>
<text x="1039.2" y="1593.2" font-size="29.1" textLength="17.9" lengthAdjust="spacingAndGlyphs">2</text>
<text x="1058.5" y="1593.2" font-size="29.1" textLength="17.9" lengthAdjust="spacingAndGlyphs">0</text>
<text x="221.5" y="1728.0" font-size="30.3" textLength="22.2" lengthAdjust="spacingAndGlyphs">2</text>
<rect x="244.2" y="1705.5" width="5.6" height="23.3" rx="2.5"/>
<text x="213.8" y="1642.6" font-size="33.2" textLength="18.9" lengthAdjust="spacingAndGlyphs">2</text>
<text x="234.0" y="1642.6" font-size="33.2" textLength="18.9" lengthAdjust="spacingAndGlyphs">2</text>
<text x="219.8" y="1410.2" font-size="30.0" textLength="18.6" lengthAdjust="spacingAndGlyphs">2</text>
<text x="239.7" y="1410.2" font-size="30.0" textLength="18.6" lengthAdjust="spacingAndGlyphs">3</text>
<text x="225.8" y="1202.5" font-size="33.1" textLength="17.4" lengthAdjust="spacingAndGlyphs">2</text>
<text x="244.6" y="1202.5" font-size="33.1" textLength="17.4" lengthAdjust="spacingAndGlyphs">4</text>
<text x="227.7" y="1100.4" font-size="30.3" textLength="18.2" lengthAdjust="spacingAndGlyphs">2</text>
<text x="247.2" y="1100.4" font-size="30.3" textLength="18.2" lengthAdjust="spacingAndGlyphs">5</text>
<text x="33.3" y="778.0" font-size="30.9" textLength="20.1" lengthAdjust="spacingAndGlyphs">2</text>
<text x="54.7" y="778.0" font-size="30.9" textLength="20.1" lengthAdjust="spacingAndGlyphs">6</text>
<text x="45.8" y="454.2" font-size="29.9" textLength="18.9" lengthAdjust="spacingAndGlyphs">2</text>
<text x="66.0" y="454.2" font-size="29.9" textLength="18.9" lengthAdjust="spacingAndGlyphs">7</text>
<text x="393.6" y="415.4" font-size="32.1" textLength="17.4" lengthAdjust="spacingAndGlyphs">2</text>
<text x="412.3" y="415.4" font-size="32.1" textLength="17.4" lengthAdjust="spacingAndGlyphs">8</text>
<text x="45.8" y="365.2" font-size="28.5" textLength="18.9" lengthAdjust="spacingAndGlyphs">2</text>
<text x="66.0" y="365.2" font-size="28.5" textLength="18.9" lengthAdjust="spacingAndGlyphs">9</text>
<text x="49.8" y="293.2" font-size="31.3" textLength="18.4" lengthAdjust="spacingAndGlyphs">3</text>
<text x="69.5" y="293.2" font-size="31.3" textLength="18.4" lengthAdjust="spacingAndGlyphs">0</text>
<text x="57.8" y="235.2" font-size="28.5" textLength="21.1" lengthAdjust="spacingAndGlyphs">3</text>
<rect x="79.4" y="214.0" width="5.6" height="22.0" rx="2.5"/>
<rect x="67.5" y="695.0" width="8.5" height="22.5" rx="2.5"/>

</g>
</svg>
<div class="logo"><span style="color:#4a6cc0">m</span><span style="color:#3aa83a">o</span><span style="color:#e67ab6">t</span><span style="color:#2f9e3f">o</span><span style="color:#e4501a">r</span><span style="color:#f0a020">u</span><span style="color:#f2c40a">f</span><span class="de">.de</span></div>
</body></html>
